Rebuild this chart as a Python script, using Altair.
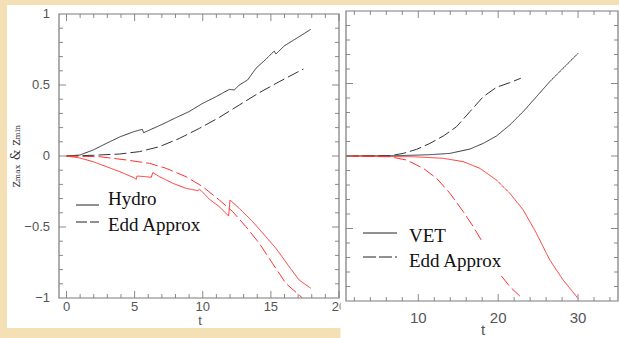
import altair as alt
import pandas as pd

# ---------------- data: left panel (Hydro vs Edd Approx) ----------------
hydro_max_t = [0, 0.98, 1.95, 2.93, 3.95, 4.93, 5.56, 5.66, 7.07, 7.93, 8.98, 10.0, 10.98, 11.95, 12.32,
               12.68, 13.29, 13.9, 14.63, 15.24, 15.37, 15.98, 16.95, 17.93]
hydro_max_z = [0, 0.007, 0.042, 0.089, 0.136, 0.171, 0.188, 0.164, 0.225, 0.265, 0.312, 0.371, 0.418, 0.469, 0.465,
               0.5, 0.535, 0.617, 0.681, 0.739, 0.718, 0.775, 0.833, 0.892]
edd_max_t = [0, 1.95, 3.9, 5.37, 6.83, 8.29, 9.76, 11.22, 12.68, 14.15, 15.61, 17.39]
edd_max_z = [0, 0.005, 0.014, 0.031, 0.066, 0.124, 0.195, 0.272, 0.359, 0.446, 0.523, 0.613]
hydro_min_t = [0, 0.98, 1.95, 2.93, 3.9, 4.88, 5.12, 5.17, 5.85, 6.22, 6.34, 6.83, 7.8, 8.78, 9.63, 9.76, 9.88,
               10.49, 11.22, 11.9, 12.0, 12.68, 13.66, 14.63, 15.37, 16.34, 17.07, 17.93]
hydro_min_z = [0, -0.014, -0.04, -0.075, -0.11, -0.15, -0.164, -0.141, -0.146, -0.15, -0.117, -0.146, -0.192,
               -0.228, -0.244, -0.235, -0.244, -0.305, -0.357, -0.423, -0.31, -0.369, -0.462, -0.568, -0.65,
               -0.779, -0.873, -0.932]
edd_min_t = [0, 2.44, 4.39, 6.1, 7.32, 8.78, 10.0, 11.22, 12.2, 13.17, 14.15, 15.12, 16.1, 17.32]
edd_min_z = [0, -0.005, -0.028, -0.052, -0.087, -0.146, -0.216, -0.31, -0.392, -0.498, -0.615, -0.756, -0.897, -1.0]

# ---------------- data: right panel (VET vs Edd Approx) ----------------
vet_max_t = [1, 7.29, 11.46, 13.96, 16.46, 18.13, 19.79, 21.46, 23.13, 24.79, 26.46, 28.13, 30.0]
vet_max_z = [0, 0.002, 0.009, 0.018, 0.048, 0.087, 0.138, 0.214, 0.306, 0.409, 0.513, 0.605, 0.708]
edd2_max_t = [1, 6.46, 8.13, 9.79, 11.46, 13.13, 14.79, 16.46, 18.13, 19.79, 21.46, 22.83]
edd2_max_z = [0, 0.002, 0.018, 0.046, 0.087, 0.138, 0.202, 0.306, 0.409, 0.474, 0.506, 0.536]
vet_min_t = [1, 9.38, 13.13, 15.63, 17.71, 19.79, 21.46, 23.13, 24.79, 26.46, 28.13, 30.0]
vet_min_z = [0, -0.005, -0.016, -0.039, -0.085, -0.166, -0.257, -0.372, -0.533, -0.717, -0.855, -0.982]
edd2_min_a_t = [1, 6.46, 8.54, 10.63, 12.29, 13.96, 15.63, 16.88, 18.0]
edd2_min_a_z = [0, -0.005, -0.028, -0.085, -0.154, -0.257, -0.384, -0.487, -0.591]
edd2_min_b_t = [20.42, 21.46, 22.71]
edd2_min_b_z = [-0.828, -0.901, -0.966]

# ---------------- ticks and tick labels ----------------
left_x_major = [0, 5, 10, 15, 20]
left_x_minor = [1, 2, 3, 4, 6, 7, 8, 9, 11, 12, 13, 14, 16, 17, 18, 19]
left_x_labels = ["0", "5", "10", "15", "20"]
right_x_major = [10, 20, 30]
right_x_minor = [2, 4, 6, 8, 12, 14, 16, 18, 22, 24, 26, 28, 32, 34]
right_x_labels = ["10", "20", "30"]
y_major = [-0.5, 0, 0.5]
y_minor = [-0.9, -0.8, -0.7, -0.6, -0.4, -0.3, -0.2, -0.1, 0.1, 0.2, 0.3, 0.4, 0.6, 0.7, 0.8, 0.9]
left_y_values = [-1, -0.5, 0, 0.5, 1]
left_y_labels = ["\u22121", "\u22120.5", "0", "0.5", "1"]

BLACK = "#333333"
RED = "#ff3030"
FRAME = "#7a7a7a"
TICK = "#8a8a8a"
LABEL = "#555555"


def series(t, z, color, dash, key):
    return pd.DataFrame({"t": t, "z": z, "col": color, "dash": dash, "key": key, "i": list(range(len(t)))})


left_df = pd.concat([
    series(hydro_max_t, hydro_max_z, BLACK, "solid", "a"),
    series(edd_max_t, edd_max_z, BLACK, "dashed", "b"),
    series(hydro_min_t, hydro_min_z, RED, "solid", "c"),
    series(edd_min_t, edd_min_z, RED, "dashed", "d"),
])
right_df = pd.concat([
    series(vet_max_t, vet_max_z, BLACK, "solid", "a"),
    series(edd2_max_t, edd2_max_z, BLACK, "dashed", "b"),
    series(vet_min_t, vet_min_z, RED, "solid", "c"),
    series(edd2_min_a_t, edd2_min_a_z, RED, "dashed", "d"),
    series(edd2_min_b_t, edd2_min_b_z, RED, "dashed", "e"),
])

one = pd.DataFrame({"a": [0]})


def panel(df, W, H, xdom, xlab_vals, xlab_text, xlab_size, xlab_y, ylabels, bg, legend, titles, xmaj, xmin):
    xs = alt.Scale(domain=xdom, nice=False, zero=False)
    ys = alt.Scale(domain=[-1, 1], nice=False, zero=False)
    layers = []
    # white panel background
    layers.append(alt.Chart(one).mark_rect(color="white").encode(
        x=alt.value(bg[0]), x2=alt.value(bg[1]), y=alt.value(bg[2]), y2=alt.value(bg[3])))
    # data lines
    layers.append(alt.Chart(df).mark_line(strokeWidth=1, clip=True).encode(
        x=alt.X("t:Q", scale=xs, axis=None),
        y=alt.Y("z:Q", scale=ys, axis=None),
        color=alt.Color("col:N", scale=None),
        strokeDash=alt.StrokeDash("dash:N", scale=alt.Scale(domain=["solid", "dashed"], range=[[1, 0], [12, 4]]),
                                  legend=None),
        detail="key:N",
        order="i:Q",
    ))
    # inward ticks on all four sides
    for vals, ln in ((xmaj, 7), (xmin, 4)):
        d = pd.DataFrame({"v": vals})
        for y1, y2 in ((H, H - ln), (0, ln)):
            layers.append(alt.Chart(d).mark_rule(color=TICK, strokeWidth=1).encode(
                x=alt.X("v:Q", scale=xs, axis=None), y=alt.value(y1), y2=alt.value(y2)))
    for vals, ln in ((y_major, 7), (y_minor, 4)):
        d = pd.DataFrame({"v": vals})
        for x1, x2 in ((0, ln), (W, W - ln)):
            layers.append(alt.Chart(d).mark_rule(color=TICK, strokeWidth=1).encode(
                y=alt.Y("v:Q", scale=ys, axis=None), x=alt.value(x1), x2=alt.value(x2)))
    # frame
    layers.append(alt.Chart(one).mark_rect(fillOpacity=0, stroke=FRAME, strokeWidth=1.2).encode(
        x=alt.value(0), x2=alt.value(W), y=alt.value(0), y2=alt.value(H)))
    # tick labels
    dx = pd.DataFrame({"v": xlab_vals, "lbl": xlab_text})
    layers.append(alt.Chart(dx).mark_text(align="center", baseline="top", font="Liberation Sans",
                                          fontSize=xlab_size, color=LABEL).encode(
        x=alt.X("v:Q", scale=xs, axis=None), y=alt.value(xlab_y), text="lbl:N"))
    if ylabels:
        dy = pd.DataFrame({"v": left_y_values, "lbl": left_y_labels})
        layers.append(alt.Chart(dy).mark_text(align="right", baseline="middle", font="Liberation Sans",
                                              fontSize=13, color=LABEL).encode(
            y=alt.Y("v:Q", scale=ys, axis=None), x=alt.value(-9), text="lbl:N"))
    # legend
    for (lx1, lx2, ly, dash, txt, tx, ty) in legend:
        layers.append(alt.Chart(one).mark_rule(color="#222222", strokeWidth=1, strokeDash=dash).encode(
            x=alt.value(lx1), x2=alt.value(lx2), y=alt.value(ly)))
        layers.append(alt.Chart(one).mark_text(text=txt, align="left", baseline="alphabetic",
                                               font="Liberation Serif", fontSize=19, color="#111111").encode(
            x=alt.value(tx), y=alt.value(ty)))
    for (txt, tx, ty, fs, ang, font, col) in titles:
        kw = dict(text=txt, align="center", baseline="alphabetic", font=font, fontSize=fs, color=col)
        if ang:
            kw["angle"] = ang
            kw["baseline"] = "middle"
        layers.append(alt.Chart(one).mark_text(**kw).encode(x=alt.value(tx), y=alt.value(ty)))
    return alt.layer(*layers).properties(width=W, height=H)


left = panel(
    left_df, 280, 284, [-0.55, 20], left_x_major, left_x_labels, 13, 287, True,
    (-52, 282, -9, 314),
    [(17, 40, 191, [1, 0], "Hydro", 49, 191), (17, 40, 208, [11, 3], "Edd Approx", 49, 217)],
    [("t", 141, 311, 13, 0, "Liberation Sans", LABEL),
     ("zₘₐₓ & zₘᵢₙ", -43, 142, 12, 270, "DejaVu Serif", "#333333")],
    left_x_major, left_x_minor,
)
right = panel(
    right_df, 272, 290, [0.95, 35], right_x_major, right_x_labels, 15, 299.5, False,
    (-5.5, 273, -6, 327),
    [(17, 51, 222, [1, 0], "VET", 63, 231), (17, 51, 246, [13, 3], "Edd Approx", 63, 256)],
    [("t", 137, 324, 15, 0, "Liberation Sans", LABEL)],
    right_x_major, right_x_minor,
)

chart = alt.hconcat(left, right, spacing=7, bounds="flush", center=True).properties(
    background="#f5dfb4",
    padding={"left": 7, "top": 5, "right": 0, "bottom": 0},
).configure_view(stroke=None)

chart.save("out.html", embed_options={"renderer": "svg", "actions": False})
